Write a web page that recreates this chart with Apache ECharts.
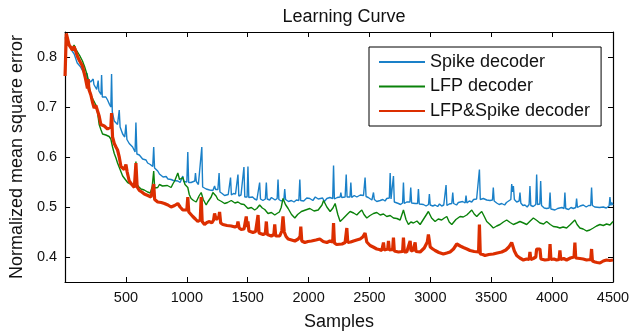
<!DOCTYPE html>
<html>
<head>
<meta charset="utf-8">
<script src="https://cdn.jsdelivr.net/npm/echarts@6/dist/echarts.min.js"></script>
<style>html,body{margin:0;padding:0;background:#fff}#c{width:644px;height:336px}</style>
</head>
<body>
<div id="c"></div>
<script>
var seriesNames = ['Spike decoder', 'LFP decoder', 'LFP&Spike decoder'];
var xTicks = [500, 1000, 1500, 2000, 2500, 3000, 3500, 4000, 4500];
var yTicks = [0.4, 0.5, 0.6, 0.7, 0.8];

var spikeData = [[0,0.840],[20,0.832],[50,0.815],[75,0.806],[100,0.788],[125,0.781],[150,0.770],[171,0.759],[179,0.768],[186,0.757],[210,0.750],[225,0.746],[231,0.756],[237,0.745],[260,0.735],[267,0.733],[272,0.753],[278,0.732],[295,0.725],[300,0.764],[306,0.720],[322,0.717],[335,0.720],[349,0.714],[365,0.705],[376,0.700],[382,0.766],[388,0.690],[404,0.672],[420,0.676],[431,0.665],[445,0.694],[452,0.660],[473,0.646],[490,0.640],[500,0.665],[508,0.635],[527,0.627],[540,0.630],[555,0.620],[575,0.610],[582,0.669],[590,0.606],[610,0.604],[624,0.601],[637,0.596],[650,0.592],[665,0.594],[678,0.588],[700,0.585],[720,0.581],[728,0.620],[735,0.578],[748,0.575],[761,0.572],[775,0.566],[790,0.563],[805,0.560],[816,0.559],[830,0.561],[845,0.556],[860,0.558],[871,0.555],[890,0.553],[905,0.556],[926,0.552],[945,0.549],[960,0.553],[967,0.562],[975,0.551],[990,0.548],[1000,0.550],[1008,0.610],[1015,0.549],[1035,0.549],[1050,0.546],[1065,0.552],[1071,0.568],[1078,0.551],[1095,0.545],[1108,0.542],[1123,0.620],[1130,0.540],[1145,0.541],[1159,0.536],[1175,0.539],[1187,0.534],[1200,0.536],[1214,0.533],[1228,0.542],[1236,0.535],[1255,0.535],[1265,0.568],[1272,0.530],[1290,0.527],[1310,0.523],[1325,0.526],[1340,0.525],[1352,0.522],[1359,0.559],[1366,0.524],[1383,0.527],[1400,0.526],[1413,0.522],[1420,0.565],[1427,0.522],[1445,0.524],[1461,0.520],[1469,0.580],[1476,0.520],[1495,0.520],[1502,0.581],[1509,0.519],[1525,0.517],[1540,0.520],[1557,0.516],[1575,0.514],[1590,0.516],[1598,0.549],[1605,0.516],[1625,0.513],[1645,0.516],[1653,0.549],[1660,0.516],[1680,0.514],[1695,0.519],[1708,0.517],[1725,0.514],[1742,0.517],[1749,0.555],[1756,0.515],[1775,0.512],[1797,0.515],[1804,0.536],[1811,0.515],[1835,0.511],[1859,0.513],[1880,0.510],[1900,0.514],[1920,0.513],[1928,0.555],[1935,0.513],[1960,0.512],[1985,0.518],[2010,0.517],[2035,0.513],[2055,0.520],[2079,0.516],[2095,0.513],[2115,0.518],[2130,0.511],[2150,0.517],[2175,0.519],[2198,0.517],[2205,0.583],[2212,0.516],[2235,0.519],[2259,0.520],[2265,0.529],[2272,0.519],[2300,0.520],[2309,0.565],[2316,0.520],[2340,0.520],[2347,0.549],[2354,0.519],[2375,0.523],[2396,0.520],[2425,0.524],[2451,0.523],[2464,0.559],[2472,0.521],[2490,0.519],[2505,0.517],[2520,0.514],[2533,0.529],[2540,0.515],[2560,0.511],[2588,0.513],[2610,0.515],[2628,0.512],[2642,0.517],[2663,0.518],[2670,0.568],[2677,0.516],[2690,0.518],[2697,0.562],[2704,0.510],[2720,0.508],[2738,0.507],[2755,0.505],[2772,0.508],[2779,0.549],[2786,0.507],[2806,0.510],[2820,0.506],[2832,0.510],[2839,0.539],[2846,0.508],[2860,0.505],[2875,0.507],[2895,0.507],[2902,0.536],[2909,0.506],[2925,0.503],[2943,0.505],[2965,0.502],[2985,0.505],[2992,0.526],[2999,0.504],[3020,0.502],[3039,0.504],[3060,0.501],[3075,0.506],[3093,0.502],[3110,0.504],[3122,0.503],[3129,0.544],[3136,0.503],[3155,0.506],[3176,0.507],[3184,0.529],[3191,0.507],[3215,0.504],[3230,0.509],[3244,0.507],[3265,0.511],[3286,0.508],[3293,0.523],[3300,0.508],[3320,0.512],[3340,0.510],[3355,0.515],[3367,0.513],[3380,0.516],[3396,0.515],[3403,0.575],[3410,0.515],[3435,0.517],[3450,0.521],[3463,0.514],[3490,0.513],[3510,0.514],[3517,0.539],[3524,0.512],[3545,0.508],[3565,0.505],[3586,0.507],[3610,0.504],[3625,0.509],[3640,0.510],[3661,0.515],[3668,0.546],[3675,0.530],[3682,0.542],[3690,0.515],[3709,0.510],[3729,0.512],[3736,0.529],[3743,0.508],[3760,0.503],[3777,0.504],[3795,0.500],[3811,0.505],[3818,0.542],[3825,0.503],[3845,0.501],[3866,0.505],[3873,0.565],[3880,0.505],[3899,0.506],[3906,0.552],[3913,0.503],[3935,0.498],[3955,0.497],[3976,0.498],[3983,0.529],[3990,0.496],[4005,0.494],[4023,0.494],[4045,0.497],[4060,0.495],[4080,0.499],[4098,0.497],[4105,0.529],[4112,0.497],[4135,0.495],[4155,0.499],[4174,0.497],[4194,0.499],[4201,0.517],[4208,0.499],[4230,0.502],[4256,0.504],[4280,0.500],[4300,0.503],[4317,0.503],[4324,0.539],[4331,0.503],[4350,0.500],[4365,0.504],[4390,0.499],[4420,0.500],[4445,0.498],[4468,0.502],[4475,0.520],[4482,0.503],[4490,0.509],[4500,0.504]];

var lfpData = [[0,0.837],[30,0.825],[61,0.817],[74,0.824],[90,0.815],[102,0.814],[120,0.803],[143,0.792],[160,0.781],[184,0.762],[198,0.742],[212,0.724],[230,0.715],[253,0.704],[266,0.690],[280,0.665],[294,0.655],[308,0.646],[322,0.649],[335,0.644],[349,0.646],[362,0.641],[376,0.636],[390,0.620],[404,0.607],[418,0.598],[431,0.588],[452,0.575],[473,0.562],[495,0.555],[514,0.549],[540,0.546],[569,0.542],[582,0.591],[590,0.545],[607,0.540],[624,0.536],[650,0.534],[678,0.530],[700,0.528],[715,0.540],[728,0.572],[736,0.538],[761,0.539],[775,0.545],[790,0.548],[800,0.542],[816,0.546],[840,0.543],[871,0.539],[885,0.546],[900,0.552],[915,0.548],[926,0.568],[940,0.555],[955,0.551],[967,0.559],[985,0.545],[1008,0.539],[1020,0.525],[1035,0.517],[1055,0.513],[1077,0.510],[1100,0.522],[1118,0.529],[1135,0.515],[1159,0.504],[1172,0.510],[1186,0.515],[1200,0.520],[1214,0.529],[1240,0.522],[1255,0.515],[1285,0.511],[1310,0.507],[1335,0.509],[1365,0.513],[1395,0.508],[1420,0.510],[1445,0.506],[1470,0.505],[1485,0.502],[1502,0.497],[1530,0.499],[1557,0.494],[1575,0.497],[1598,0.504],[1620,0.498],[1640,0.495],[1667,0.487],[1695,0.489],[1722,0.484],[1740,0.487],[1760,0.490],[1775,0.499],[1790,0.517],[1810,0.505],[1832,0.497],[1860,0.485],[1887,0.478],[1910,0.485],[1941,0.491],[1975,0.494],[2010,0.497],[2045,0.492],[2079,0.494],[2095,0.497],[2110,0.504],[2123,0.513],[2150,0.500],[2177,0.491],[2200,0.498],[2218,0.507],[2240,0.485],[2259,0.471],[2280,0.476],[2300,0.481],[2320,0.486],[2341,0.491],[2370,0.488],[2396,0.484],[2415,0.489],[2437,0.494],[2455,0.485],[2478,0.478],[2505,0.483],[2533,0.487],[2560,0.489],[2588,0.484],[2615,0.486],[2642,0.481],[2670,0.483],[2697,0.478],[2725,0.477],[2752,0.474],[2779,0.494],[2800,0.475],[2820,0.465],[2840,0.470],[2861,0.468],[2890,0.472],[2916,0.465],[2950,0.478],[2984,0.491],[3010,0.478],[3039,0.471],[3065,0.476],[3093,0.474],[3115,0.478],[3135,0.481],[3155,0.470],[3176,0.465],[3210,0.475],[3244,0.481],[3270,0.480],[3299,0.484],[3320,0.489],[3340,0.494],[3360,0.486],[3381,0.481],[3400,0.486],[3422,0.491],[3445,0.480],[3463,0.471],[3490,0.465],[3517,0.458],[3545,0.462],[3572,0.465],[3600,0.470],[3627,0.474],[3655,0.469],[3682,0.465],[3710,0.468],[3736,0.471],[3765,0.468],[3791,0.465],[3820,0.472],[3846,0.478],[3875,0.473],[3900,0.468],[3930,0.466],[3955,0.471],[3985,0.465],[4010,0.461],[4040,0.460],[4064,0.458],[4090,0.460],[4119,0.458],[4150,0.465],[4187,0.474],[4205,0.465],[4228,0.458],[4255,0.456],[4283,0.452],[4310,0.454],[4338,0.458],[4365,0.462],[4393,0.465],[4420,0.463],[4447,0.466],[4475,0.464],[4500,0.471]];

var bothData = [[0,0.762],[10,0.847],[33,0.824],[61,0.814],[74,0.821],[102,0.801],[120,0.792],[143,0.782],[165,0.760],[184,0.737],[190,0.756],[196,0.735],[212,0.724],[225,0.710],[239,0.698],[253,0.703],[267,0.707],[280,0.682],[294,0.665],[308,0.663],[322,0.662],[335,0.659],[349,0.656],[362,0.652],[376,0.660],[382,0.688],[390,0.640],[404,0.627],[418,0.620],[431,0.614],[445,0.600],[459,0.581],[472,0.578],[486,0.575],[500,0.585],[510,0.570],[527,0.552],[548,0.545],[569,0.539],[582,0.588],[592,0.540],[610,0.533],[630,0.530],[651,0.526],[680,0.523],[706,0.520],[720,0.522],[728,0.546],[736,0.515],[761,0.510],[790,0.509],[816,0.507],[845,0.504],[871,0.500],[900,0.503],[926,0.507],[945,0.500],[967,0.494],[1000,0.494],[1008,0.520],[1016,0.490],[1030,0.486],[1049,0.481],[1070,0.476],[1090,0.471],[1110,0.474],[1118,0.520],[1126,0.471],[1145,0.465],[1165,0.469],[1186,0.471],[1205,0.468],[1220,0.474],[1228,0.487],[1240,0.475],[1255,0.472],[1263,0.480],[1269,0.490],[1278,0.468],[1296,0.465],[1330,0.463],[1365,0.462],[1395,0.460],[1413,0.462],[1420,0.471],[1430,0.458],[1447,0.455],[1470,0.456],[1482,0.460],[1488,0.481],[1496,0.460],[1502,0.471],[1510,0.452],[1543,0.449],[1565,0.451],[1578,0.455],[1585,0.484],[1593,0.448],[1626,0.445],[1645,0.447],[1653,0.471],[1661,0.445],[1694,0.442],[1715,0.445],[1722,0.465],[1730,0.442],[1763,0.442],[1780,0.452],[1790,0.481],[1800,0.450],[1815,0.441],[1832,0.436],[1860,0.434],[1887,0.432],[1915,0.436],[1930,0.441],[1936,0.461],[1944,0.432],[1969,0.429],[1995,0.431],[2024,0.432],[2060,0.434],[2092,0.436],[2120,0.431],[2150,0.429],[2175,0.432],[2198,0.430],[2205,0.468],[2212,0.428],[2230,0.425],[2246,0.423],[2275,0.426],[2300,0.429],[2314,0.458],[2322,0.429],[2345,0.430],[2369,0.432],[2395,0.434],[2423,0.436],[2445,0.440],[2464,0.448],[2478,0.430],[2505,0.423],[2530,0.420],[2560,0.416],[2580,0.415],[2601,0.413],[2615,0.429],[2622,0.414],[2650,0.416],[2656,0.432],[2663,0.414],[2690,0.415],[2697,0.439],[2704,0.412],[2738,0.410],[2772,0.411],[2779,0.439],[2786,0.410],[2806,0.410],[2834,0.432],[2842,0.412],[2860,0.414],[2875,0.429],[2882,0.411],[2916,0.410],[2950,0.418],[2975,0.430],[2984,0.445],[2999,0.420],[3020,0.416],[3039,0.413],[3070,0.409],[3107,0.406],[3135,0.408],[3162,0.410],[3190,0.416],[3217,0.426],[3245,0.422],[3271,0.419],[3300,0.416],[3326,0.413],[3360,0.411],[3396,0.410],[3403,0.465],[3410,0.406],[3430,0.405],[3449,0.403],[3480,0.405],[3517,0.406],[3550,0.408],[3586,0.410],[3620,0.414],[3645,0.420],[3668,0.429],[3690,0.412],[3709,0.403],[3735,0.398],[3764,0.394],[3790,0.396],[3811,0.395],[3818,0.410],[3825,0.395],[3845,0.397],[3866,0.400],[3873,0.416],[3900,0.416],[3908,0.396],[3941,0.394],[3976,0.395],[3983,0.426],[3990,0.395],[4015,0.396],[4037,0.394],[4057,0.395],[4064,0.413],[4071,0.395],[4095,0.397],[4119,0.394],[4150,0.398],[4180,0.400],[4187,0.429],[4194,0.398],[4228,0.397],[4255,0.396],[4283,0.394],[4317,0.395],[4324,0.416],[4331,0.392],[4352,0.390],[4370,0.389],[4393,0.388],[4420,0.392],[4447,0.394],[4475,0.393],[4500,0.394]];

var colors = ['#1a80c8', '#0a820a', '#dc2e00'];
var FONT = 'Liberation Sans, Arial, Helvetica, sans-serif';

var chart = echarts.init(document.getElementById('c'), null, {renderer: 'canvas'});
var axisLineStyle = {show: true, onZero: false, lineStyle: {color: '#000', width: 1.2}};
var plainLabel = function (v) { return String(v); };
var option = {
  animation: false,
  backgroundColor: '#fff',
  color: colors,
  title: {
    text: 'Learning Curve', left: 339, top: 3, textAlign: 'center',
    textStyle: {fontFamily: FONT, fontSize: 18, fontWeight: 'normal', color: '#111'}
  },
  grid: {left: 65, right: 31, top: 32, bottom: 47, containLabel: false},
  legend: {
    orient: 'vertical', left: 369, top: 47,
    padding: [6, 11, 6, 9], itemGap: 6.5, itemWidth: 46, itemHeight: 12,
    borderColor: '#000', borderWidth: 1, backgroundColor: '#fff',
    itemStyle: {opacity: 0},
    textStyle: {fontFamily: FONT, fontSize: 18, color: '#111'},
    data: seriesNames
  },
  xAxis: [{
    type: 'value', min: 0, max: 4500, interval: 500,
    name: 'Samples', nameLocation: 'middle', nameGap: 31,
    nameTextStyle: {fontFamily: FONT, fontSize: 18, color: '#111'},
    axisLine: axisLineStyle,
    axisTick: {show: true, inside: true, length: 5, customValues: xTicks, lineStyle: {color: '#000'}},
    axisLabel: {show: true, margin: 8, customValues: xTicks, fontFamily: FONT, fontSize: 14.5, color: '#111', formatter: plainLabel},
    splitLine: {show: false}
  }, {
    type: 'value', position: 'top', min: 0, max: 4500, interval: 500,
    axisLine: axisLineStyle,
    axisTick: {show: true, inside: true, length: 5, customValues: xTicks, lineStyle: {color: '#000'}},
    axisLabel: {show: false}, splitLine: {show: false}
  }],
  yAxis: [{
    type: 'value', min: 0.35, max: 0.85,
    name: 'Normalized mean square error', nameLocation: 'middle', nameGap: 33,
    nameTextStyle: {fontFamily: FONT, fontSize: 18, color: '#111'},
    axisLine: axisLineStyle,
    axisTick: {show: true, inside: true, length: 5, customValues: yTicks, lineStyle: {color: '#000'}},
    axisLabel: {show: true, margin: 8, customValues: yTicks, fontFamily: FONT, fontSize: 14.5, color: '#111',
      formatter: function (v) { return v.toFixed(1); }},
    splitLine: {show: false}
  }, {
    type: 'value', position: 'right', min: 0.35, max: 0.85,
    axisLine: axisLineStyle,
    axisTick: {show: true, inside: true, length: 5, customValues: yTicks, lineStyle: {color: '#000'}},
    axisLabel: {show: false}, splitLine: {show: false}
  }],
  series: [
    {name: seriesNames[0], type: 'line', data: spikeData, symbol: 'none', lineStyle: {width: 1.4, color: colors[0]}, itemStyle: {color: colors[0]}},
    {name: seriesNames[1], type: 'line', data: lfpData, symbol: 'none', lineStyle: {width: 1.4, color: colors[1]}, itemStyle: {color: colors[1]}},
    {name: seriesNames[2], type: 'line', data: bothData, symbol: 'none', lineStyle: {width: 3.2, color: colors[2]}, itemStyle: {color: colors[2]}}
  ]
};
chart.setOption(option);
</script>
</body>
</html>
